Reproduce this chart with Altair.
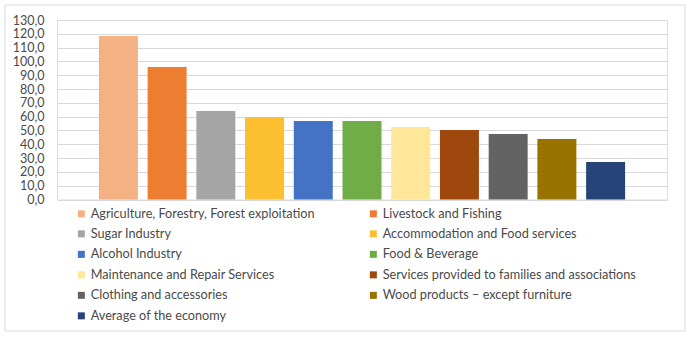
import altair as alt
import pandas as pd

categories = [
    "Agriculture, Forestry, Forest exploitation",
    "Livestock and Fishing",
    "Sugar Industry",
    "Accommodation and Food services",
    "Alcohol Industry",
    "Food & Beverage",
    "Maintenance and Repair Services",
    "Services provided to families and associations",
    "Clothing and accessories",
    "Wood products \u2013 except furniture",
    "Average of the economy",
]
values = [118.5, 96.0, 64.1, 59.8, 56.9, 56.9, 52.5, 50.4, 47.5, 43.8, 27.2]
colors = ["#F4B183", "#ED7D31", "#A5A5A5", "#FBBF30", "#4472C4", "#70AD47",
          "#FFE699", "#9E480E", "#636363", "#997300", "#264478"]
y_ticks = list(range(0, 131, 10))

df = pd.DataFrame({"category": categories, "value": values})

bars = alt.Chart(df).mark_bar().encode(
    x=alt.X("category:N", sort=categories, axis=None,
            scale=alt.Scale(paddingInner=0.2, paddingOuter=0.86)),
    y=alt.Y("value:Q", scale=alt.Scale(domain=[0, 130], nice=False),
            axis=alt.Axis(values=y_ticks, title=None, domain=False, ticks=False,
                          labelExpr="replace(format(datum.value, '.1f'), '.', ',')",
                          labelPadding=13, labelFontSize=12.5, labelColor="#4a4a4a",
                          labelFont="Lato", gridColor="#d9d9d9", gridWidth=1)),
    color=alt.Color("category:N", sort=categories,
                    scale=alt.Scale(domain=categories, range=colors),
                    legend=alt.Legend(title=None, orient="none", legendX=18, legendY=187,
                                      direction="horizontal",
                                      columns=2, columnPadding=52, rowPadding=6.5,
                                      symbolType="square", symbolSize=49,
                                      symbolStrokeWidth=0, labelOffset=3,
                                      labelFont="Lato", labelFontSize=12.7,
                                      labelColor="#4a4a4a", labelLimit=400, padding=0)),
)

border = alt.Chart(pd.DataFrame({"a": [0]})).mark_rect(
    fill=None, stroke="#d9d9d9", strokeWidth=1
).encode(x=alt.value(-52), x2=alt.value(628), y=alt.value(-15), y2=alt.value(311))

chart = alt.layer(bars, border).properties(
    width=610, height=179.5,
    padding={"left": 57, "top": 20, "right": 27, "bottom": 139},
    autosize=alt.AutoSizeParams(type="none"),
).configure_view(stroke=None).configure(background="white")

chart.save("out.html", embed_options={"renderer": "svg", "actions": False})
